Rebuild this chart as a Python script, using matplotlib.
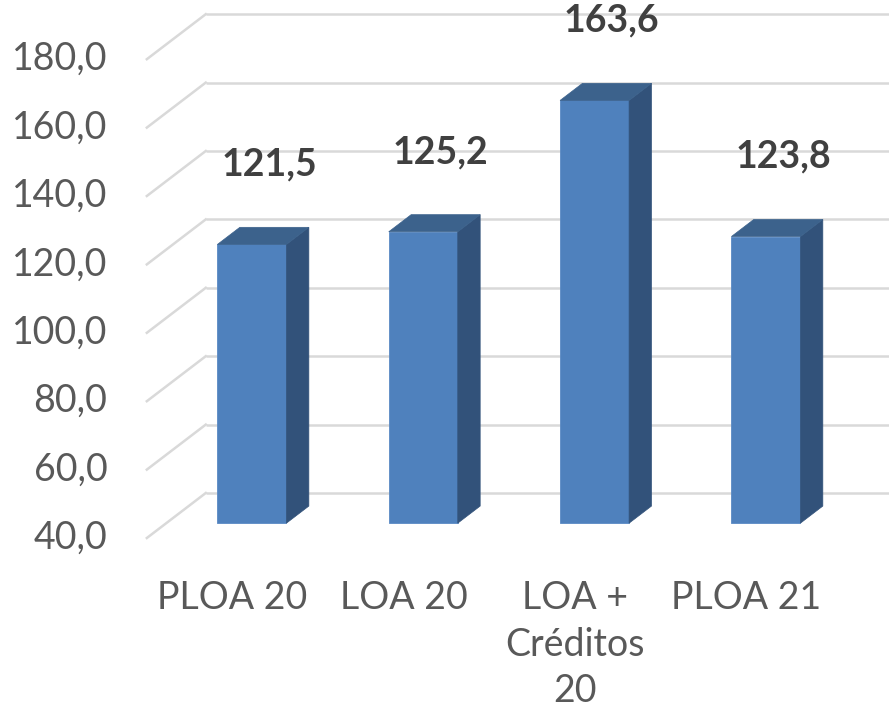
import matplotlib
matplotlib.use("Agg")
import matplotlib.pyplot as plt
from matplotlib.patches import Polygon, Rectangle

categories = ["PLOA 20", "LOA 20", "LOA +\nCréditos\n20", "PLOA 21"]
values = [121.5, 125.2, 163.6, 123.8]
value_labels = ["121,5", "125,2", "163,6", "123,8"]
yticks = [40, 60, 80, 100, 120, 140, 160, 180]
ytick_labels = ["40,0", "60,0", "80,0", "100,0", "120,0", "140,0", "160,0", "180,0"]

plt.rcParams['font.family'] = ['Lato', 'DejaVu Sans']

fig = plt.figure(figsize=(8.89, 7.11), dpi=100)
ax = fig.add_axes([0, 0, 1, 1])
ax.set_xlim(-1.701, 3.488)
ax.set_ylim(-23.74, 184.15)
ax.axis('off')

# oblique depth offsets (full depth) in data units
DX = 0.344
DV = 13.16
wall_left, wall_right = -0.5, 3.5
ymin = yticks[0]

grid_c = '#d9d9d9'
for v in yticks:
    ax.plot([wall_left, wall_right], [v, v], color=grid_c, lw=1.8, zorder=1, solid_capstyle='butt')
    ax.plot([wall_left - DX, wall_left], [v - DV, v], color=grid_c, lw=1.8, zorder=1)

for v, lab in zip(yticks, ytick_labels):
    ax.text(wall_left - DX - 0.23, v - DV, lab, ha='right', va='center',
            fontsize=27, color='#595959')

front_d = 0.67   # offset of bar front face from back wall (fraction of full depth)
back_d = 0.29
half_w = 0.2015
front_c = '#4f81bd'
side_c = '#32527a'
top_c = '#3c628c'

for i, val in enumerate(values):
    cx = i - DX * front_d
    xl, xr = cx - half_w, cx + half_w
    bv = ymin - DV * front_d
    tv = val - DV * front_d
    sx = DX * (front_d - back_d)
    sv = DV * (front_d - back_d)
    ax.add_patch(Rectangle((xl, bv), xr - xl, tv - bv, facecolor=front_c,
                           edgecolor='#5a8ac4', lw=0.6, zorder=3))
    ax.add_patch(Polygon([(xr, bv), (xr, tv), (xr + sx, tv + sv), (xr + sx, bv + sv)],
                         closed=True, facecolor=side_c, edgecolor=side_c, lw=0.5, zorder=3))
    ax.add_patch(Polygon([(xl, tv), (xr, tv), (xr + sx, tv + sv), (xl + sx, tv + sv)],
                         closed=True, facecolor=top_c, edgecolor=top_c, lw=0.5, zorder=3))
    ax.text(cx + 0.1, val + 14.5, value_labels[i], ha='center', va='center',
            fontsize=27, fontweight='bold', color='#404040', zorder=4)

for i, cat in enumerate(categories):
    ax.text(i - DX, ymin - DV - 12.3, cat, ha='center', va='top', fontsize=27,
            color='#595959', linespacing=1.36, multialignment='center')

fig.savefig("out.png", dpi=100)
